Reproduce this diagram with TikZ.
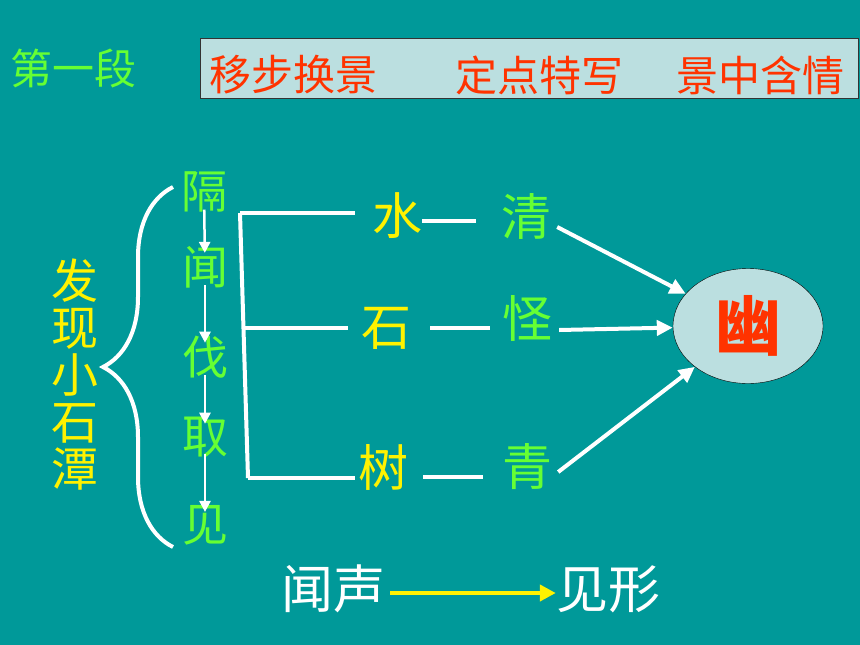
\documentclass[tikz,border=0pt]{standalone}
\usepackage{fontspec}
\usepackage{xcolor}
\usetikzlibrary{arrows.meta,decorations.pathreplacing,shapes.geometric}
\newfontfamily\cjk{Noto Sans CJK SC}
\newcommand{\zhsize}[1]{\fontsize{#1}{#1}\selectfont}
\definecolor{bgteal}{HTML}{009999}
\definecolor{leafgreen}{HTML}{66FF33}
\definecolor{boxblue}{HTML}{BBDFE0}
\definecolor{titlered}{HTML}{FF3300}

\begin{document}
\begin{tikzpicture}[x=1pt, y=-1pt, every node/.style={font=\cjk, inner sep=0pt},
  wline/.style={draw=white, line width=4pt},
  steparrow/.style={draw=white, line width=2.5pt, shorten >=-7pt, shorten <=-3pt, -{Triangle[length=11pt,width=11pt]}},
  bigarrow/.style={draw=white, line width=4pt, -{Triangle[length=16pt,width=15pt]}}]
\fill[bgteal] (0,0) rectangle (860,645);
% Header
\node[text=leafgreen, font=\cjk\zhsize{42}] (duan) at (73,68) {第一段};
\node[draw=black!80, fill=boxblue, line width=1pt, minimum width=658pt, minimum height=60pt] (tipbox) at (529,68) {};
\node[text=titlered, font=\cjk\zhsize{42}] (tip1) at (293,75) {移步换景};
\node[text=titlered, font=\cjk\zhsize{42}] (tip2) at (539,75) {定点特写};
\node[text=titlered, font=\cjk\zhsize{42}] (tip3) at (760,75) {景中含情};
% Left part
\node[text=yellow, font=\cjk\zhsize{47}, align=center] (faxian) at (75,375) {\baselineskip=47pt 发\\现\\小\\石\\潭};
\draw[wline, decorate, decoration={brace, amplitude=70pt}] (173,547) -- (173,187);
\node[text=leafgreen, font=\cjk\zhsize{46}] (ge) at (204,192) {隔};
\node[text=leafgreen, font=\cjk\zhsize{46}] (wen) at (205,267) {闻};
\node[text=leafgreen, font=\cjk\zhsize{46}] (fa) at (205,357) {伐};
\node[text=leafgreen, font=\cjk\zhsize{46}] (qu) at (205,437) {取};
\node[text=leafgreen, font=\cjk\zhsize{46}] (jian) at (205,525) {见};
\draw[steparrow] (ge) -- (wen);
\draw[steparrow] (wen) -- (fa);
\draw[steparrow] (fa) -- (qu);
\draw[steparrow] (qu) -- (jian);
% Three rows
\node[text=yellow, font=\cjk\zhsize{50}] (shui) at (397,216) {水};
\node[text=yellow, font=\cjk\zhsize{50}] (shi) at (386,328) {石};
\node[text=yellow, font=\cjk\zhsize{50}] (shu) at (383,467) {树};
\node[text=leafgreen, font=\cjk\zhsize{50}] (qing) at (526,216) {清};
\node[text=leafgreen, font=\cjk\zhsize{50}] (guai) at (527,318) {怪};
\node[text=leafgreen, font=\cjk\zhsize{50}] (qing2) at (527,467) {青};
\coordinate (b1) at (240,213);
\coordinate (b2) at (244,328);
\coordinate (b3) at (248,478);
\draw[wline] (b1) -- (b3);
\draw[wline, shorten >=17pt] (b1) -- (b1 -| shui.west);
\draw[wline, shorten >=13pt] (b2) -- (b2 -| shi.west);
\draw[wline, shorten >=3pt] (b3) -- (b3 -| shu.west);
\draw[wline, shorten >=25pt] ([yshift=-5pt]shui.east) -- ([yshift=-5pt]qing.west);
\draw[wline, shorten <=19pt, shorten >=12pt] (shi.east) -- (shi.east -| guai.west);
\draw[wline, shorten <=15pt, shorten >=19pt] ([yshift=-10pt]shu.east) -- ([yshift=-10pt]qing2.west);
% Result
\node[ellipse, draw=black, fill=boxblue, minimum width=150pt, minimum height=115pt] (you) at (748,326) {};
\node[text=titlered, font=\cjk\zhsize{66}\bfseries] (youzi) at (you) {幽};
\draw[bigarrow] ([xshift=6pt,yshift=-11pt]qing.east) -- (you);
\draw[bigarrow] ([xshift=7pt,yshift=-12pt]guai.east) -- (you);
\draw[bigarrow] ([xshift=6pt,yshift=-5pt]qing2.east) -- (you);
% Bottom
\node[text=white, font=\cjk\zhsize{52}] (wensheng) at (333,589) {闻声};
\node[text=white, font=\cjk\zhsize{52}] (jianxing) at (608,589) {见形};
\draw[draw=yellow, line width=4pt, -{Triangle[length=16pt,width=16pt]}, shorten <=5pt] ([yshift=-4pt]wensheng.east) -- ([yshift=-4pt]jianxing.west);
\end{tikzpicture}
\end{document}
